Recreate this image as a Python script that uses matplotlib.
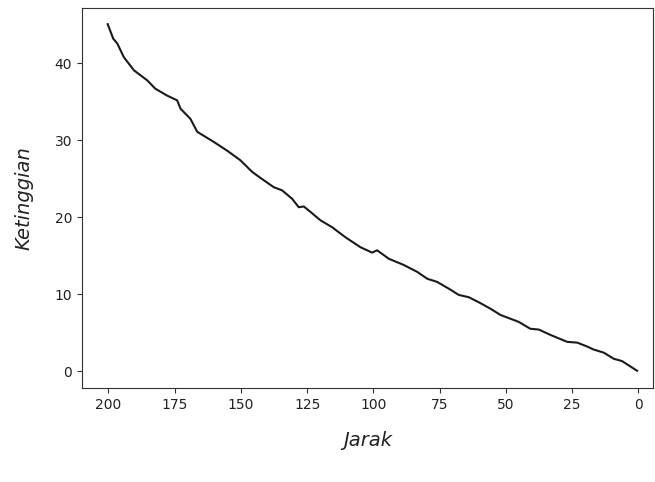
import matplotlib
matplotlib.use("Agg")
import matplotlib.pyplot as plt

jarak = [200.3, 198.2, 196.7, 194.2, 190.4, 185.4, 182.3, 177.8, 174.1, 172.8,
         169.1, 166.5, 160.3, 155.0, 150.2, 145.8, 142.6, 137.6, 134.5, 130.7,
         128.2, 126.3, 123.8, 120.0, 115.6, 110.6, 104.9, 100.5, 98.6, 94.2,
         88.6, 83.5, 79.7, 76.0, 71.5, 67.8, 64.0, 60.0, 55.8, 52.1,
         45.2, 40.8, 37.6, 33.2, 26.9, 23.1, 19.4, 16.9, 13.1, 9.3,
         6.2, 0.5]
ketinggian = [45.1, 43.2, 42.6, 40.8, 39.1, 37.8, 36.7, 35.8, 35.2, 34.1,
              32.8, 31.1, 29.8, 28.6, 27.4, 25.9, 25.1, 23.9, 23.5, 22.4,
              21.3, 21.4, 20.7, 19.6, 18.7, 17.4, 16.1, 15.4, 15.7, 14.6,
              13.8, 12.9, 12.0, 11.6, 10.7, 9.9, 9.6, 8.9, 8.1, 7.3,
              6.4, 5.5, 5.4, 4.7, 3.8, 3.7, 3.2, 2.8, 2.4, 1.6,
              1.3, 0.04]

x_ticks = [200, 175, 150, 125, 100, 75, 50, 25, 0]
y_ticks = [0, 10, 20, 30, 40]

fig = plt.figure(figsize=(6.55, 4.82), dpi=100)
ax = fig.add_axes([82 / 655, 1 - 388 / 482, (653 - 82) / 655, (388 - 8) / 482])
ax.plot(jarak, ketinggian, color="#1a1a1a", linewidth=1.5)
ax.set_xlim(210, -5.5)
ax.set_ylim(-2.2, 47.2)
ax.set_xticks(x_ticks)
ax.set_yticks(y_ticks)
ax.tick_params(labelsize=10, colors="#333333", labelcolor="#222222")
for s in ax.spines.values():
    s.set_color("#333333")
ax.set_xlabel("Jarak", fontsize=14, style="italic", labelpad=14, color="#222222")
ax.set_ylabel("Ketinggian", fontsize=14, style="italic", labelpad=15.5, color="#222222")
fig.savefig("out.png", dpi=100)
